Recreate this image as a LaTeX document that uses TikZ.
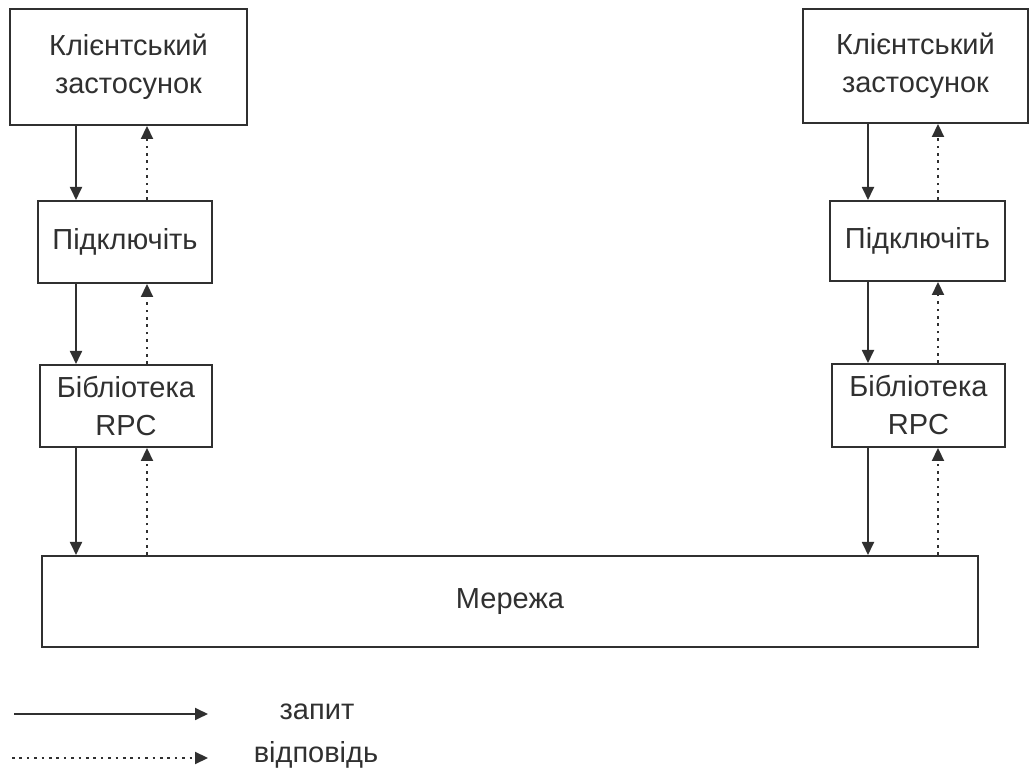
\documentclass[tikz,border=0pt]{standalone}
\usepackage{fontspec}
\setmainfont{Liberation Sans}
\usetikzlibrary{arrows.meta}
\definecolor{ink}{HTML}{303030}
\begin{document}
\begin{tikzpicture}[x=0.5pt,y=-0.5pt,
  box/.style={draw=ink,line width=1pt,inner sep=0pt,align=center,text=ink,
    font=\fontsize{14.5}{19}\selectfont},
  req/.style={draw=ink,line width=0.9pt,-{Triangle[length=6.5pt,width=6pt]}},
  resp/.style={draw=ink,line width=1.1pt,dash pattern=on 1.3pt off 2.4pt,-{Triangle[length=6.5pt,width=6pt]}},
  lbl/.style={text=ink,font=\fontsize{14.5}{17}\selectfont}]
\useasboundingbox (0,0) rectangle (1030,769);
% left column
\node[box,minimum width=118.5pt,minimum height=58pt] (cl) at (128.5,67) {Клієнтський\\застосунок};
\node[box,minimum width=87pt,minimum height=41pt] (pl) at (125,242) {Підключіть};
\node[box,minimum width=86pt,minimum height=41pt] (rl) at (126,406) {Бібліотека\\RPC};
% right column
\node[box,minimum width=112.5pt,minimum height=57pt] (cr) at (915.5,66) {Клієнтський\\застосунок};
\node[box,minimum width=87.5pt,minimum height=40pt] (pr) at (917.5,241) {Підключіть};
\node[box,minimum width=86.5pt,minimum height=41.5pt] (rr) at (918.5,405.5) {Бібліотека\\RPC};
% network
\node[box,minimum width=468pt,minimum height=45.5pt] (net) at (510,601.5) {Мережа};
% arrow columns
\coordinate (xa) at (76,0);
\coordinate (xb) at (147,0);
\coordinate (xc) at (868,0);
\coordinate (xd) at (938,0);
\draw[req] (cl.south -| xa) -- (pl.north -| xa);
\draw[req] (pl.south -| xa) -- (rl.north -| xa);
\draw[req] (rl.south -| xa) -- (net.north -| xa);
\draw[resp] (pl.north -| xb) -- (cl.south -| xb);
\draw[resp] (rl.north -| xb) -- (pl.south -| xb);
\draw[resp] (net.north -| xb) -- (rl.south -| xb);
\draw[req] (cr.south -| xc) -- (pr.north -| xc);
\draw[req] (pr.south -| xc) -- (rr.north -| xc);
\draw[req] (rr.south -| xc) -- (net.north -| xc);
\draw[resp] (pr.north -| xd) -- (cr.south -| xd);
\draw[resp] (rr.north -| xd) -- (pr.south -| xd);
\draw[resp] (net.north -| xd) -- (rr.south -| xd);
% legend
\coordinate (l1a) at (14,714);
\coordinate (l1b) at (208,714);
\coordinate (l2a) at (12,758);
\coordinate (l2b) at (208,758);
\draw[req] (l1a) -- (l1b);
\draw[resp] (l2a) -- (l2b);
\node[lbl] (t1) at (317,712) {запит};
\node[lbl] (t2) at (316,755) {відповідь};
\end{tikzpicture}
\end{document}
